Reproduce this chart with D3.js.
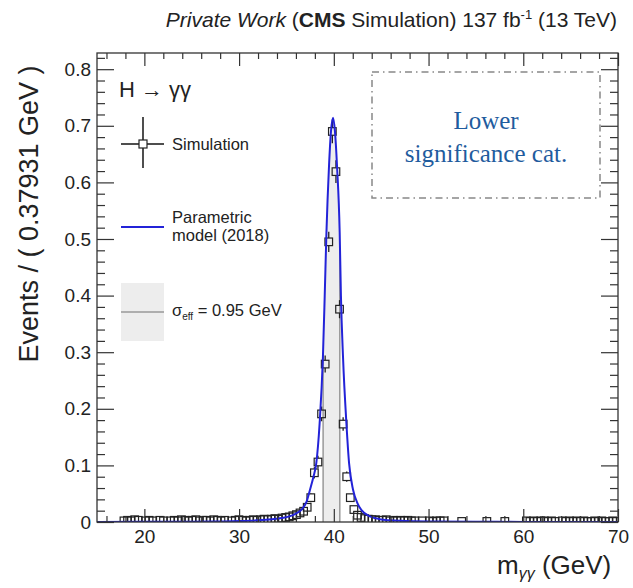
<!DOCTYPE html>
<html>
<head>
<meta charset="utf-8">
<script src="https://cdn.jsdelivr.net/npm/d3@7"></script>
<style>
  body { margin: 0; background: #fff; }
  text { font-family: "Liberation Sans", Arial, sans-serif; fill: #222; }
</style>
</head>
<body>
<div id="chart"></div>
<script>
// histogram binning of the simulation (15 - 70 GeV, 145 bins)
var massLo = 15, massHi = 70, binWidth = 0.37931;

// simulated events per bin (null = empty bin)
var simValues = [
  null, null, null, null, null, null, null, 0.002, 0.003, 0.002,
  0.004, 0.003, null, 0.002, 0.003, 0.002, null, 0.003, 0.002, null,
  0.002, 0.003, 0.002, 0.004, 0.003, 0.002, 0.003, 0.004, 0.002, 0.003,
  0.003, 0.002, 0.004, 0.003, 0.002, 0.003, null, 0.002, 0.003, 0.004,
  0.003, 0.002, 0.003, 0.004, 0.003, 0.004, 0.005, 0.004, 0.005, 0.006,
  0.005, 0.007, 0.008, 0.009, 0.011, 0.013, 0.016, 0.019, 0.026, 0.043,
  0.087, 0.106, 0.191, 0.279, 0.495, 0.690, 0.619, 0.376, 0.173, 0.080,
  0.043, 0.022, 0.012, 0.008, 0.006, 0.005, 0.004, 0.004, 0.003, 0.003,
  0.004, 0.002, 0.003, 0.002, 0.003, 0.002, 0.003, 0.002, 0.002, null,
  0.002, null, 0.002, 0.001, 0.002, 0.002, 0.002, null, null, null,
  null, 0.001, null, null, null, null, null, null, 0.001, null,
  null, null, null, 0.001, null, null, null, null, null, 0.002,
  0.001, 0.002, 0.001, 0.002, 0.002, 0.001, 0.002, 0.001, null, 0.002,
  0.001, 0.002, 0.001, 0.002, 0.001, 0.002, 0.001, 0.001, 0.002, 0.001,
  0.002, 0.001, 0.001, 0.002, 0.001
];
var simErrors = [
  0, 0, 0, 0, 0, 0, 0, 0.004, 0.004, 0.004,
  0.005, 0.004, 0, 0.004, 0.004, 0.004, 0, 0.004, 0.004, 0,
  0.004, 0.004, 0.004, 0.005, 0.004, 0.004, 0.004, 0.005, 0.004, 0.004,
  0.004, 0.004, 0.005, 0.004, 0.004, 0.004, 0, 0.004, 0.004, 0.005,
  0.004, 0.004, 0.004, 0.005, 0.004, 0.005, 0.005, 0.004, 0.005, 0.005,
  0.005, 0.005, 0.005, 0.005, 0.005, 0.006, 0.006, 0.006, 0.007, 0.008,
  0.010, 0.011, 0.013, 0.015, 0.018, 0.021, 0.020, 0.016, 0.012, 0.009,
  0.007, 0.006, 0.005, 0.005, 0.004, 0.004, 0.004, 0.004, 0.004, 0.004,
  0.004, 0.003, 0.004, 0.003, 0.004, 0.003, 0.004, 0.003, 0.003, 0,
  0.003, 0, 0.003, 0.003, 0.003, 0.003, 0.003, 0, 0, 0,
  0, 0.003, 0, 0, 0, 0, 0, 0, 0.003, 0,
  0, 0, 0, 0.003, 0, 0, 0, 0, 0, 0.004,
  0.003, 0.004, 0.003, 0.004, 0.004, 0.003, 0.004, 0.003, 0, 0.004,
  0.003, 0.004, 0.003, 0.004, 0.003, 0.004, 0.003, 0.003, 0.004, 0.003,
  0.004, 0.003, 0.003, 0.004, 0.003
];

// parametric signal model
var modelMass = [15, 20, 25, 28, 30, 32, 33.5, 34.5, 35.3, 36, 36.6, 37.1, 37.5, 37.85,
  38.15, 38.5, 38.85, 39.04, 39.22, 39.49, 39.7, 39.92, 40.12, 40.34, 40.62, 40.75,
  40.97, 41.33, 41.61, 42.03, 42.5, 42.92, 43.8, 44.85, 47, 50, 55, 60, 70];
var modelValue = [0.0002, 0.0003, 0.0006, 0.001, 0.0016, 0.003, 0.005, 0.007, 0.010, 0.015,
  0.022, 0.035, 0.058, 0.080, 0.104, 0.174, 0.292, 0.400, 0.511, 0.628, 0.690, 0.714,
  0.690, 0.628, 0.511, 0.400, 0.292, 0.174, 0.104, 0.057, 0.033, 0.021, 0.010, 0.005,
  0.002, 0.0008, 0.0003, 0.0002, 0.0001];

// sigma_eff window
var sigmaEffLo = 38.87, sigmaEffHi = 40.63;

var xTicks = [20, 30, 40, 50, 60, 70];
var yTicks = [0, 0.1, 0.2, 0.3, 0.4, 0.5, 0.6, 0.7, 0.8];

// frame of the plot inside the 633x588 page
var margin = { top: 53, right: 15, bottom: 66, left: 97 },
    width = 633 - margin.left - margin.right,
    height = 588 - margin.top - margin.bottom;

var svg = d3.select("#chart")
    .append("svg")
    .attr("width", 633)
    .attr("height", 588);

var g = svg.append("g")
    .attr("transform", "translate(" + margin.left + "," + margin.top + ")");

var x = d3.scaleLinear().domain([massLo, massHi]).range([0, width]);
var y = d3.scaleLinear().domain([0, 0.8286]).range([height, 0]);

var model = modelMass.map(function (m, i) { return { m: m, v: modelValue[i] }; });

var lineGen = d3.line()
    .x(function (d) { return x(d.m); })
    .y(function (d) { return y(d.v); })
    .curve(d3.curveMonotoneX);

var areaGen = d3.area()
    .x(function (d) { return x(d.m); })
    .y0(height)
    .y1(function (d) { return y(d.v); })
    .curve(d3.curveMonotoneX);

// clip everything to the frame
svg.append("defs").append("clipPath").attr("id", "frameClip")
    .append("rect").attr("width", width).attr("height", height);
svg.select("defs").append("clipPath").attr("id", "underCurve")
    .append("path").attr("d", areaGen(model));

// sigma_eff band under the curve
var band = g.append("g").attr("clip-path", "url(#underCurve)");
band.append("rect")
    .attr("x", x(sigmaEffLo))
    .attr("y", 0)
    .attr("width", x(sigmaEffHi) - x(sigmaEffLo))
    .attr("height", height)
    .style("fill", "#ededed");
band.selectAll("line.edge")
    .data([sigmaEffLo, sigmaEffHi])
    .enter().append("line")
    .attr("x1", function (d) { return x(d); })
    .attr("x2", function (d) { return x(d); })
    .attr("y1", 0).attr("y2", height)
    .style("stroke", "#999").style("stroke-width", 1.5);

// simulation points
var sim = simValues.map(function (v, i) {
    return { m: massLo + (i + 0.5) * binWidth, v: v, e: simErrors[i] };
}).filter(function (d) { return d.v !== null; });

var pts = g.append("g").attr("clip-path", "url(#frameClip)");
var half = 3.8;
sim.forEach(function (d) {
    var cx = x(d.m), cy = y(d.v);
    var up = y(d.v + d.e), dn = y(Math.max(0, d.v - d.e));
    if (cy - up > half) pts.append("line").attr("x1", cx).attr("x2", cx).attr("y1", up).attr("y2", cy - half);
    if (dn - cy > half) pts.append("line").attr("x1", cx).attr("x2", cx).attr("y1", cy + half).attr("y2", dn);
    pts.append("rect")
        .attr("x", cx - half).attr("y", cy - half)
        .attr("width", 2 * half).attr("height", 2 * half)
        .style("fill", "none");
});
pts.selectAll("line").style("stroke", "#222").style("stroke-width", 1.3);
pts.selectAll("rect").style("stroke", "#222").style("stroke-width", 1.2);

// model curve
g.append("path")
    .attr("clip-path", "url(#frameClip)")
    .attr("d", lineGen(model))
    .style("fill", "none")
    .style("stroke", "#2323d8")
    .style("stroke-width", 2);

// axes with inward ticks (ROOT style)
function styleAxis(sel) {
    sel.select(".domain").remove();
    sel.selectAll("line").style("stroke", "#333").style("stroke-width", 1.2);
    sel.selectAll("text").style("font-size", "19px").style("fill", "#222");
}
var minorX = d3.range(16, 70, 2).filter(function (v) { return v % 10 !== 0; });
var minorY = d3.range(0, 0.83, 0.02).filter(function (v) { return Math.abs(v * 10 - Math.round(v * 10)) > 0.01; });

g.append("g").attr("transform", "translate(0," + height + ")")
    .call(d3.axisBottom(x).tickValues(xTicks).tickSize(-13).tickPadding(8).tickFormat(d3.format("d")))
    .call(styleAxis);
g.append("g").attr("transform", "translate(0," + height + ")")
    .call(d3.axisBottom(x).tickValues(minorX).tickSize(-6).tickFormat(""))
    .call(styleAxis);
g.append("g")
    .call(d3.axisTop(x).tickValues(xTicks).tickSize(-13).tickFormat(""))
    .call(styleAxis);
g.append("g")
    .call(d3.axisTop(x).tickValues(minorX).tickSize(-6).tickFormat(""))
    .call(styleAxis);
g.append("g")
    .call(d3.axisLeft(y).tickValues(yTicks).tickSize(-17).tickPadding(6)
        .tickFormat(function (d) { return d === 0 ? "0" : d.toFixed(1); }))
    .call(styleAxis);
g.append("g")
    .call(d3.axisLeft(y).tickValues(minorY).tickSize(-8).tickFormat(""))
    .call(styleAxis);
g.append("g").attr("transform", "translate(" + width + ",0)")
    .call(d3.axisRight(y).tickValues(yTicks).tickSize(-17).tickFormat(""))
    .call(styleAxis);
g.append("g").attr("transform", "translate(" + width + ",0)")
    .call(d3.axisRight(y).tickValues(minorY).tickSize(-8).tickFormat(""))
    .call(styleAxis);

// frame
g.append("rect")
    .attr("width", width).attr("height", height)
    .style("fill", "none").style("stroke", "#333").style("stroke-width", 1.3);

// axis titles
var xt = svg.append("text")
    .attr("x", 497).attr("y", 574)
    .style("font-size", "26px");
xt.append("tspan").text("m");
xt.append("tspan").attr("dy", 5).style("font-size", "16px").style("font-style", "italic").text("γγ");
xt.append("tspan").attr("dy", -5).text(" (GeV)");

svg.append("text")
    .attr("transform", "translate(38,214) rotate(-90)")
    .attr("text-anchor", "middle")
    .style("font-size", "27px")
    .text("Events / ( 0.37931 GeV )");

// header
var hd = svg.append("text")
    .attr("x", 617).attr("y", 27)
    .attr("text-anchor", "end")
    .style("font-size", "21px");
hd.append("tspan").style("font-style", "italic").text("Private Work");
hd.append("tspan").text(" (");
hd.append("tspan").style("font-weight", "bold").text("CMS");
hd.append("tspan").text(" Simulation)  137 fb");
hd.append("tspan").attr("dy", -8).style("font-size", "13px").text("-1");
hd.append("tspan").attr("dy", 8).text(" (13 TeV)");

// legend
svg.append("text").attr("x", 119).attr("y", 97).style("font-size", "22px").text("H → γγ");

var leg = svg.append("g");
leg.append("line").attr("x1", 143).attr("x2", 143).attr("y1", 117).attr("y2", 140);
leg.append("line").attr("x1", 143).attr("x2", 143).attr("y1", 148).attr("y2", 168);
leg.append("line").attr("x1", 121).attr("x2", 139).attr("y1", 144).attr("y2", 144);
leg.append("line").attr("x1", 147).attr("x2", 164).attr("y1", 144).attr("y2", 144);
leg.selectAll("line").style("stroke", "#222").style("stroke-width", 1.6);
leg.append("rect").attr("x", 139).attr("y", 140).attr("width", 8).attr("height", 8)
    .style("fill", "none").style("stroke", "#222").style("stroke-width", 1.2);
leg.append("text").attr("x", 172).attr("y", 150).style("font-size", "16.5px").text("Simulation");

leg.append("line").attr("x1", 121).attr("x2", 164).attr("y1", 227).attr("y2", 227)
    .style("stroke", "#2323d8").style("stroke-width", 2);
leg.append("text").attr("x", 172).attr("y", 223).style("font-size", "16.5px").text("Parametric");
leg.append("text").attr("x", 172).attr("y", 241).style("font-size", "16.5px").text("model (2018)");

leg.append("rect").attr("x", 121).attr("y", 283).attr("width", 43).attr("height", 58)
    .style("fill", "#ededed");
leg.append("line").attr("x1", 121).attr("x2", 164).attr("y1", 312).attr("y2", 312)
    .style("stroke", "#999").style("stroke-width", 1.5);
var se = leg.append("text").attr("x", 172).attr("y", 316).style("font-size", "16.5px");
se.append("tspan").text("σ");
se.append("tspan").attr("dy", 4).style("font-size", "10px").text("eff");
se.append("tspan").attr("dy", -4).text(" = 0.95 GeV");

// category box
svg.append("rect")
    .attr("x", 372).attr("y", 72).attr("width", 228).attr("height", 126)
    .style("fill", "none").style("stroke", "#888").style("stroke-width", 1.5)
    .style("stroke-dasharray", "7,4,1.5,4");
svg.append("text").attr("x", 486).attr("y", 129).attr("text-anchor", "middle")
    .style("font-family", "'Liberation Serif', serif").style("font-size", "25px").style("fill", "#1f5c9e")
    .text("Lower");
svg.append("text").attr("x", 486).attr("y", 162).attr("text-anchor", "middle")
    .style("font-family", "'Liberation Serif', serif").style("font-size", "25px").style("fill", "#1f5c9e")
    .text("significance cat.");
</script>
</body>
</html>
